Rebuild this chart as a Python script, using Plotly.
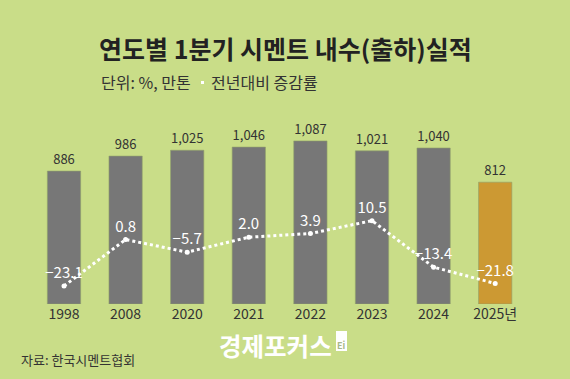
import plotly.graph_objects as go

years = ["1998", "2008", "2020", "2021", "2022", "2023", "2024", "2025년"]
shipments = [886, 986, 1025, 1046, 1087, 1021, 1040, 812]
yoy = [-23.1, 0.8, -5.7, 2.0, 3.9, 10.5, -13.4, -21.8]

W, H = 570, 379
BG = "#c9dd88"
FONT = "Noto Sans CJK KR"

bar_colors = ["#777777"] * (len(years) - 1) + ["#cc9933"]
bar_text = [f"{v:,}" for v in shipments]
line_text = [f"{v:.1f}".replace("-", "−") for v in yoy]

fig = go.Figure()
fig.add_trace(go.Bar(
    x=years, y=shipments, marker=dict(color=bar_colors, line=dict(color="#8f9f6a", width=0.6)),
    width=0.54, text=bar_text, textposition="outside", cliponaxis=False,
    textfont=dict(family=FONT, size=13, color="#333333"), hoverinfo="skip",
))
fig.add_trace(go.Scatter(
    x=years, y=yoy, yaxis="y2", mode="lines+markers+text",
    line=dict(color="white", width=3, dash="dot"),
    marker=dict(color="white", size=5),
    text=line_text, textposition="top center", cliponaxis=False,
    textfont=dict(family=FONT, size=15, color="white"), hoverinfo="skip",
))

def px(x):
    return x / W

def py(y):
    return 1 - y / H

def note(x, y, text, size, color="#333333", xanchor="left"):
    fig.add_annotation(x=px(x), y=py(y), xref="paper", yref="paper", showarrow=False,
                       xanchor=xanchor, yanchor="middle", text=text,
                       font=dict(family=FONT, size=size, color=color))

top, bottom = 120, 304
fig.update_layout(
    width=W, height=H, margin=dict(l=0, r=0, t=0, b=0, autoexpand=False),
    paper_bgcolor=BG, plot_bgcolor=BG, showlegend=False,
    font=dict(family=FONT, color="#333333"),
    bargap=0.46,
    xaxis=dict(domain=[px(33.2), px(526)], range=[-0.5, 7.5], showgrid=False, zeroline=False,
               showline=False, ticks="", automargin=False,
               tickfont=dict(family=FONT, size=14, color="#333333")),
    yaxis=dict(domain=[py(bottom), py(top)], range=[0, (bottom - top) / 0.15], visible=False,
               automargin=False),
    yaxis2=dict(overlaying="y", range=[-32.36, 62.29], visible=False, automargin=False),
)

note(285, 48, "<b>연도별 1분기 시멘트 내수(출하)실적</b>", 25, "#222222", "center")
note(99, 82, "단위: %, 만톤", 16)
note(209, 82, "전년대비 증감률", 16)
fig.add_shape(type="rect", xref="paper", yref="paper", layer="above",
              x0=px(201), x1=px(204), y0=py(84), y1=py(81),
              fillcolor="#ffffff", line=dict(width=0))
note(19, 359, "자료: 한국시멘트협회", 13)
note(217, 345, "<b>경제포커스</b>", 24.5, "#ffffff")
fig.add_shape(type="rect", xref="paper", yref="paper", layer="above",
              x0=px(336), x1=px(347), y0=py(351), y1=py(331),
              fillcolor="#ffffff", line=dict(width=0))
note(341.5, 345, "<b>Ei</b>", 9, "#a9b889", "center")

fig.write_html("out.html", config={"displayModeBar": False},
               post_script="document.body.style.margin='0';")
